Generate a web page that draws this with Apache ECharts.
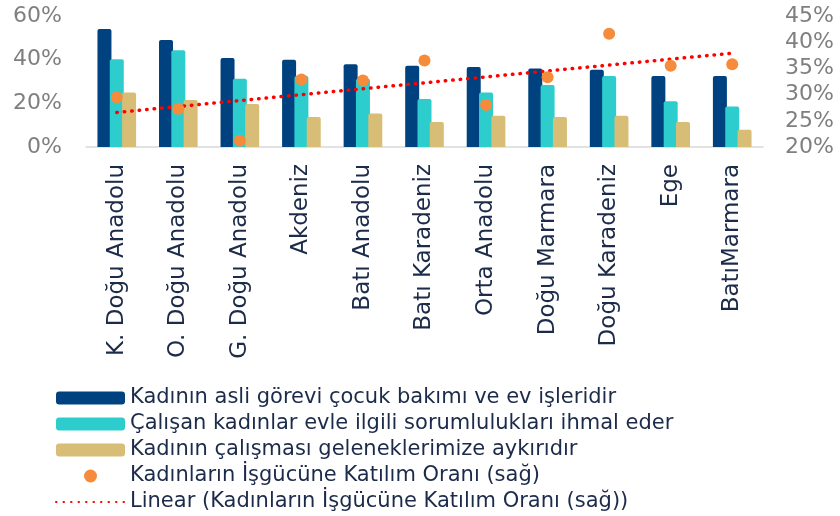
<!DOCTYPE html>
<html>
<head>
<meta charset="utf-8">
<script src="https://cdn.jsdelivr.net/npm/echarts@6/dist/echarts.min.js"></script>
<style>
html,body{margin:0;padding:0;background:#fff;}
#c{width:840px;height:516px;}
</style>
</head>
<body>
<div id="c"></div>
<script>
const categories = ["K. Doğu Anadolu","O. Doğu Anadolu","G. Doğu Anadolu","Akdeniz","Batı Anadolu","Batı Karadeniz","Orta Anadolu","Doğu Marmara","Doğu Karadeniz","Ege","BatıMarmara"];
const seriesNames = [
  "Kadının asli görevi çocuk bakımı ve ev işleridir",
  "Çalışan kadınlar evle ilgili sorumlulukları ihmal eder",
  "Kadının çalışması geleneklerimize aykırıdır",
  "Kadınların İşgücüne Katılım Oranı (sağ)",
  "Linear (Kadınların İşgücüne Katılım Oranı (sağ))"
];
const asliGorev = [54.0, 49.0, 40.8, 40.0, 37.9, 37.2, 36.6, 36.0, 35.4, 32.5, 32.5];
const ihmalEder = [40.2, 44.3, 31.3, 32.5, 31.3, 22.0, 25.0, 28.4, 32.5, 20.9, 18.5];
const gelenek = [25.0, 21.5, 19.7, 13.7, 15.4, 11.5, 14.3, 13.7, 14.3, 11.5, 7.9];
const katilimOrani = [29.5, 27.3, 21.2, 32.9, 32.7, 36.5, 28.0, 33.3, 41.6, 35.5, 35.8];
const trendEnds = [26.6, 37.9];
const leftTicks = [0, 60, 20];
const rightTicks = [20, 45, 5];

const last = categories.length - 1;
const trendData = categories.map((c, i) => i === 0 ? trendEnds[0] : (i === last ? trendEnds[1] : null));

const chart = echarts.init(document.getElementById('c'), null, {renderer: 'canvas'});
const fontFam = '"DejaVu Sans", sans-serif';
const barCommon = {
  type: 'bar',
  barWidth: 14,
  barGap: '-12%',
  yAxisIndex: 0
};
chart.setOption({
  animation: false,
  backgroundColor: '#ffffff',
  grid: {left: 86, right: 77, top: 16, bottom: 369},
  legend: {
    orient: 'vertical',
    left: 50,
    top: 382,
    height: 134,
    itemWidth: 69,
    itemHeight: 13,
    itemGap: 4,
    data: [
      seriesNames[0], seriesNames[1], seriesNames[2], seriesNames[3],
      {name: seriesNames[4], itemStyle: {opacity: 0}}
    ],
    textStyle: {fontFamily: fontFam, fontSize: 21, color: '#1c2b4a', lineHeight: 22}
  },
  xAxis: {
    type: 'category',
    data: categories,
    axisLine: {lineStyle: {color: '#d9d9d9', width: 1.5}},
    axisTick: {length: 7, lineStyle: {color: '#d9d9d9', width: 1.5}},
    axisLabel: {rotate: 90, margin: 17, fontFamily: fontFam, fontSize: 23, color: '#1c2b4a', interval: 0}
  },
  yAxis: [
    {
      type: 'value', min: leftTicks[0], max: leftTicks[1], interval: leftTicks[2],
      axisLine: {show: false}, axisTick: {show: false}, splitLine: {show: false},
      axisLabel: {formatter: '{value}%', fontFamily: fontFam, fontSize: 22, color: '#7f7f7f', margin: 24}
    },
    {
      type: 'value', min: rightTicks[0], max: rightTicks[1], interval: rightTicks[2],
      axisLine: {show: false}, axisTick: {show: false}, splitLine: {show: false},
      axisLabel: {formatter: '{value}%', fontFamily: fontFam, fontSize: 22, color: '#7f7f7f', margin: 22}
    }
  ],
  series: [
    Object.assign({}, barCommon, {name: seriesNames[0], data: asliGorev, itemStyle: {color: '#00427f', borderRadius: [2,2,0,0]}}),
    Object.assign({}, barCommon, {name: seriesNames[1], data: ihmalEder, itemStyle: {color: '#2ecdcd', borderRadius: [2,2,0,0]}}),
    Object.assign({}, barCommon, {name: seriesNames[2], data: gelenek, itemStyle: {color: '#d7bd76', borderRadius: [2,2,0,0]}}),
    {
      name: seriesNames[3], type: 'scatter', yAxisIndex: 1, data: katilimOrani,
      symbol: 'circle', symbolSize: 12, z: 4,
      itemStyle: {color: '#f68b3c', opacity: 1}
    },
    {
      name: seriesNames[4], type: 'line', yAxisIndex: 1, data: trendData,
      connectNulls: true, symbol: 'none', z: 3,
      lineStyle: {color: '#ff0000', width: 3.5, type: [0.5, 7], cap: 'round'},
      itemStyle: {color: '#ff0000'}
    }
  ]
});
</script>
</body>
</html>
